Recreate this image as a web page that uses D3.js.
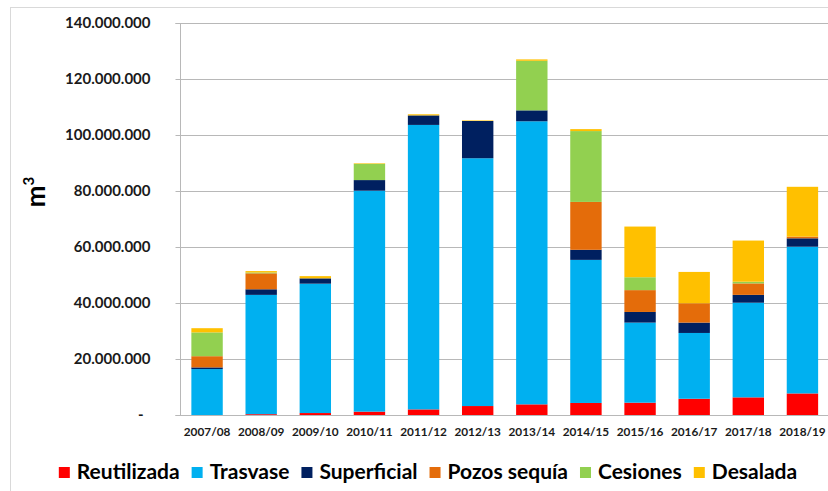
<!DOCTYPE html>
<html>
<head>
<meta charset="utf-8">
<script src="https://cdn.jsdelivr.net/npm/d3@7"></script>
<style>
  html, body { margin: 0; padding: 0; background: #fff; }
  svg { display: block; font-family: Lato, "Open Sans", sans-serif; }
</style>
</head>
<body>
<svg id="chart" width="828" height="491"></svg>
<script>
// ---- Data (millions of m3) ----
const categories = ["2007/08","2008/09","2009/10","2010/11","2011/12","2012/13","2013/14","2014/15","2015/16","2016/17","2017/18","2018/19"];
const seriesNames = ["Reutilizada","Trasvase","Superficial","Pozos sequía","Cesiones","Desalada"];
const reutilizada = [0,   0.3,  0.7,  1.2,  2.0,   3.2,  3.8,   4.3,  4.4,  5.8,  6.3,  7.7];
const trasvase    = [16.4,42.6, 46.2, 78.9, 101.6, 88.5, 101.1, 51.1, 28.6, 23.5, 33.8, 52.4];
const superficial = [0.6, 2.0,  1.9,  3.8,  3.4,   13.3, 3.9,   3.6,  3.8,  3.7,  2.8,  3.0];
const pozosSequia = [4.0, 5.7,  0,    0,    0,     0,    0,     17.1, 7.8,  6.9,  4.1,  0.6];
const cesiones    = [8.5, 0.3,  0,    5.8,  0,     0,    17.7,  25.3, 4.6,  0,    0.6,  0];
const desalada    = [1.5, 0.5,  0.8,  0.2,  0.4,   0.2,  0.5,   0.7,  18.1, 11.2, 14.7, 17.8];
const yTicks = [0, 20e6, 40e6, 60e6, 80e6, 100e6, 120e6, 140e6];
const colors = ["#ff0000","#00b0f0","#002060","#e46c0a","#92d050","#ffc000"];

const seriesValues = [reutilizada, trasvase, superficial, pozosSequia, cesiones, desalada];
const table = categories.map((c, i) => {
  const row = { cat: c };
  seriesNames.forEach((s, k) => row[s] = seriesValues[k][i] * 1e6);
  return row;
});

const svg = d3.select("#chart");

// chart frame
svg.append("rect")
  .attr("x", 10.5).attr("y", 7.5)
  .attr("width", 900).attr("height", 600)
  .attr("fill", "none").attr("stroke", "#d9d9d9");

const x = d3.scaleBand().domain(categories).range([180, 829.5])
  .paddingInner(0.42).paddingOuter(0.21);
const y = d3.scaleLinear().domain([0, 140e6]).range([415, 23]);

const loc = d3.formatLocale({ decimal: ",", thousands: ".", grouping: [3], currency: ["", ""] });
const fmt = loc.format(",");

// gridlines
svg.append("g").selectAll("line").data(yTicks.filter(d => d > 0)).join("line")
  .attr("x1", 180).attr("x2", 828)
  .attr("y1", d => Math.round(y(d)) + 0.5).attr("y2", d => Math.round(y(d)) + 0.5)
  .attr("stroke", "#b8b8b8").attr("stroke-width", 1);

// bars
const stack = d3.stack().keys(seriesNames);
const stacked = stack(table);
svg.append("g").selectAll("g").data(stacked).join("g")
  .attr("fill", (d, i) => colors[i])
  .selectAll("rect").data(d => d).join("rect")
  .attr("x", d => x(d.data.cat))
  .attr("width", x.bandwidth())
  .attr("y", d => y(d[1]))
  .attr("height", d => Math.max(0, y(d[0]) - y(d[1])));

// y axis
const yAxis = d3.axisLeft(y).tickValues(yTicks).tickSize(5).tickPadding(25)
  .tickFormat(d => d === 0 ? "-" : fmt(d));
const gy = svg.append("g").attr("transform", "translate(180.5,0)").call(yAxis);
gy.select(".domain").attr("stroke", "#b8b8b8").attr("d", "M-5,23.5H0V415.5H-5");
gy.selectAll(".tick line").attr("stroke", "#b8b8b8");
gy.selectAll(".tick text")
  .attr("font-size", "15px").attr("font-weight", "bold").attr("fill", "#1a1a1a")
  .attr("font-family", "Lato, sans-serif")
  .attr("dx", d => d === 0 ? "-7" : "0");

// x axis
const xAxis = d3.axisBottom(x).tickSize(0).tickPadding(12);
const gx = svg.append("g").attr("transform", "translate(0,415.5)").call(xAxis);
gx.select(".domain").attr("stroke", "#b8b8b8").attr("d", "M180,0H828");
gx.selectAll(".tick text")
  .attr("font-size", "11.8px").attr("font-weight", "bold").attr("fill", "#1a1a1a")
  .attr("font-family", "Lato, sans-serif");

// y label m3
const yl = svg.append("text")
  .attr("transform", "translate(45,192) rotate(-90)")
  .attr("text-anchor", "middle")
  .attr("font-size", "26px").attr("font-weight", "bold").attr("fill", "#000");
yl.append("tspan").text("m");
yl.append("tspan").attr("font-size", "15px").attr("dy", "-11").text("3");

// legend
const legend = svg.append("g");
const items = legend.selectAll("g").data(seriesNames).join("g");
items.append("rect").attr("width", 11).attr("height", 11).attr("y", 467)
  .attr("fill", (d, i) => colors[i]);
items.append("text").attr("x", 18).attr("y", 479)
  .attr("font-size", "21px").attr("font-weight", "bold").attr("fill", "#000")
  .text(d => d);
let cx = 0;
const gap = 12;
const positions = [];
items.each(function () {
  const w = d3.select(this).select("text").node().getComputedTextLength();
  positions.push(cx);
  cx += 18 + w + gap;
});
const totalW = cx - gap;
const startX = 428 - totalW / 2;
items.attr("transform", (d, i) => `translate(${startX + positions[i]},0)`);
</script>
</body>
</html>
